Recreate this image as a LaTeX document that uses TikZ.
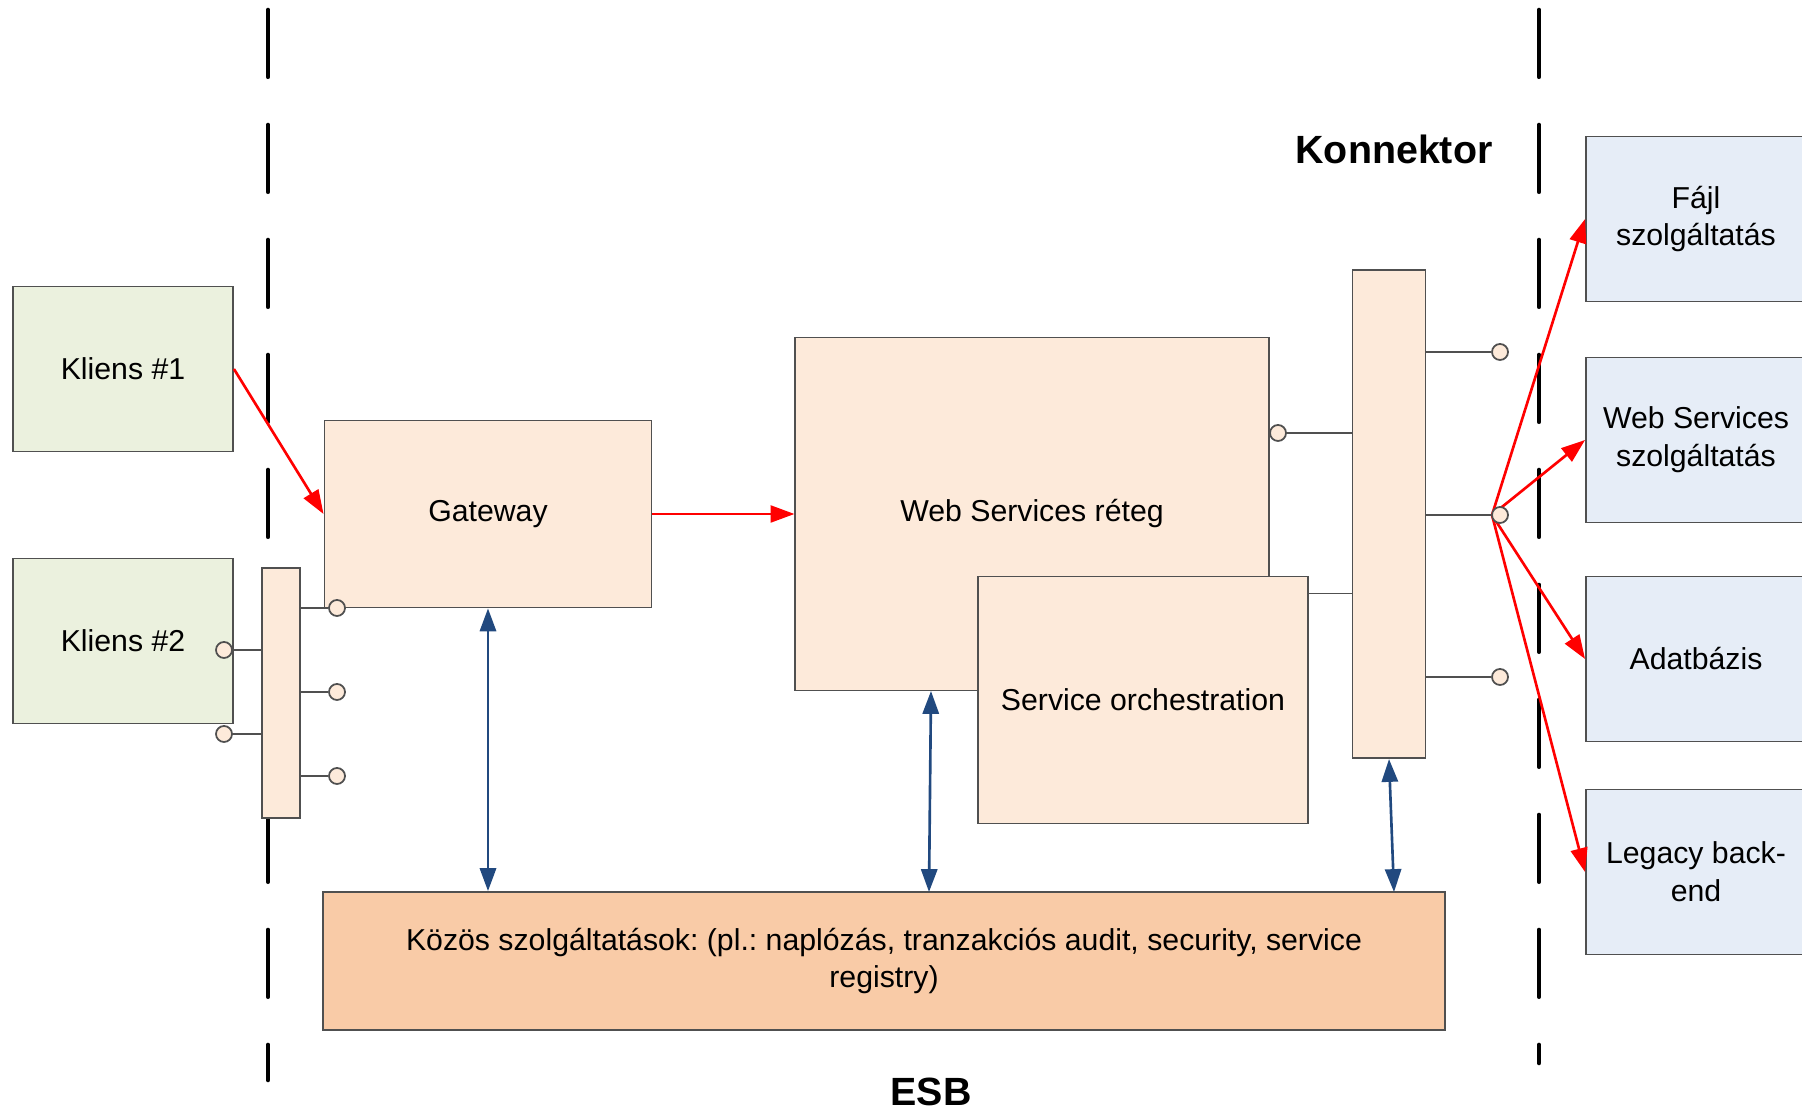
\documentclass[tikz,border=0pt]{standalone}
\usepackage{xcolor}
\usepackage{fontspec}
\setmainfont{Liberation Sans}
\usetikzlibrary{arrows.meta}
\frenchspacing

\definecolor{kliensszin}{HTML}{EBF1DE}
\definecolor{retegszin}{HTML}{FDEADA}
\definecolor{szolgszin}{HTML}{E6EDF7}
\definecolor{kozosszin}{HTML}{F9CBA7}
\definecolor{keret}{HTML}{505050}
\definecolor{kek}{HTML}{21497F}

\tikzset{
  doboz/.style={draw=keret, line width=0.5pt, align=center, inner sep=0pt},
  kliens/.style={doboz, fill=kliensszin, minimum width=22mm, minimum height=16.5mm},
  reteg/.style={doboz, fill=retegszin},
  szolg/.style={doboz, fill=szolgszin, minimum width=22mm, minimum height=16.5mm},
  port/.style={circle, draw=keret, fill=retegszin, line width=0.5pt, minimum size=1.6mm, inner sep=0pt},
  vonal/.style={draw=keret, line width=0.5pt},
  hatar/.style={line width=1.3pt, line cap=round, dash pattern=on 19pt off 13.7pt},
  keres/.style={red, line width=0.75pt, -{Triangle[length=6.8pt,width=4.8pt]}},
  ketiranyu/.style={kek, line width=0.75pt, {Triangle[length=6.5pt,width=4.6pt]}-{Triangle[length=6.5pt,width=4.6pt]}}
}

\begin{document}
\begin{tikzpicture}[x=0.01cm, y=-0.01cm, font=\fontsize{8.6}{10.75}\selectfont]
\useasboundingbox (0,0) rectangle (1802,1110);

% ESB hatarai
\draw[hatar] (268,10) -- (268,1080);
\draw[hatar] (1539,10) -- (1539,1063);

% kliensek
\node[kliens] (k1) at (123,369) {Kliens \#1};
\node[kliens] (k2) at (123,641) {Kliens \#2};
\node[reteg, minimum width=3.8mm, minimum height=25mm] (lsin) at (281,693) {};

% ESB retegek
\node[reteg, minimum width=32.7mm, minimum height=18.7mm] (gw) at (488,514) {Gateway};
\node[reteg, minimum width=47.3mm, minimum height=35.3mm] (ws) at (1032,514) {Web Services réteg};
\node[reteg, minimum width=33mm, minimum height=24.7mm] (so) at (1143,700) {Service orchestration};
\node[reteg, minimum width=7.3mm, minimum height=48.8mm] (rsin) at (1389,514) {};
\node[doboz, fill=kozosszin, minimum width=112.1mm, minimum height=13.8mm] (koz) at (884,961)
  {Közös szolgáltatások: (pl.: naplózás, tranzakciós audit, security, service\\registry)};

% szolgaltatasok
\node[szolg] (fajl) at (1696,219) {Fájl\\szolgáltatás};
\node[szolg] (wsszolg) at (1696,440) {Web Services\\szolgáltatás};
\node[szolg] (adat) at (1696,659) {Adatbázis};
\node[szolg] (legacy) at (1696,872) {Legacy back-\\end};

% uzenetek a konnektorbol
\coordinate (hubbal) at (1492,515);
\draw[keres] (hubbal) -- (fajl.west);
\draw[keres] (hubbal) -- (wsszolg.west);
\draw[keres] (hubbal) -- (adat.west);
\draw[keres] (hubbal) -- (legacy.west);

% portok
\foreach \n/\y in {kp1/650, kp2/734} {
  \node[port] (\n) at (224,\y) {};
  \draw[vonal] (\n) -- (\n -| lsin.west);
}
\foreach \n/\y in {lp1/608, lp2/692, lp3/776} {
  \node[port] (\n) at (337,\y) {};
  \draw[vonal] (\n) -- (\n -| lsin.east);
}
\node[port] (wsp) at (1278,433) {};
\draw[vonal] (wsp) -- (wsp -| rsin.west);
\draw[vonal] ([yshift=-1.8mm]so.north east) -- ([yshift=-1.8mm]so.north east -| rsin.west);
\foreach \n/\y in {rp1/352, hub/515, rp3/677} {
  \node[port] (\n) at (1500,\y) {};
  \draw[vonal] (\n) -- (\n -| rsin.east);
}

% uzenetek
\draw[keres] (k1.east) -- (gw.west);
\draw[keres] (gw.east) -- (ws.west);

% kozos szolgaltatasok eleres
\coordinate (wsalja) at (931,691);
\coordinate (kozkozep) at (929,892);
\coordinate (kozjobb) at (1394,892);
\draw[ketiranyu] (gw.south) -- (gw.south |- koz.north);
\draw[ketiranyu] (wsalja) -- (kozkozep);
\draw[ketiranyu] (rsin.south) -- (kozjobb);

% feliratok
\node[font=\bfseries\fontsize{11.2}{13}\selectfont] (konn) at (1394,149) {Konnektor};
\node[font=\bfseries\fontsize{11.2}{13}\selectfont] (esb) at (931,1092) {ESB};
\end{tikzpicture}
\end{document}
